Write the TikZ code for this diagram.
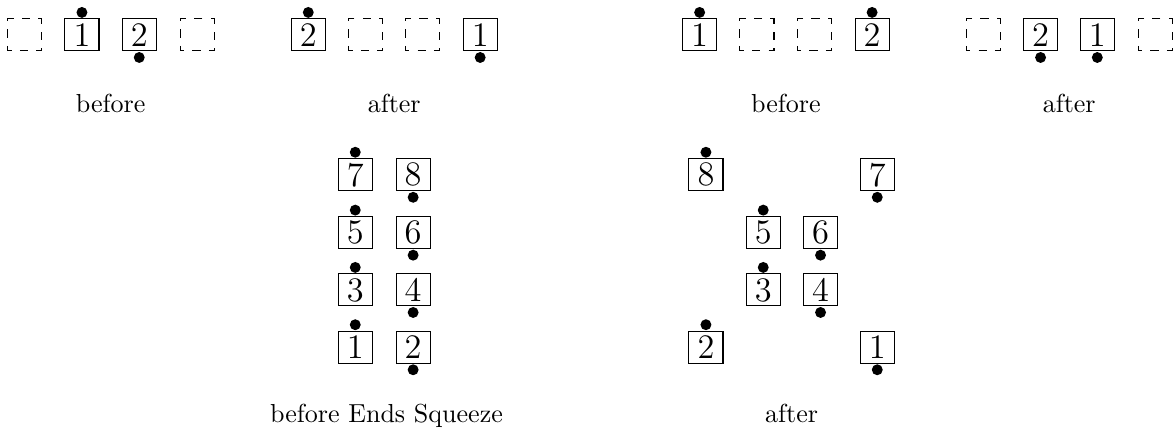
\documentclass[tikz,border=0pt]{standalone}
\usepackage{tikz}
\tikzset{
  cell/.style={draw, minimum width=13.1pt, minimum height=12.3pt, inner sep=0pt, font=\fontsize{13.2}{16}\selectfont},
  hole/.style={cell, dash pattern=on 3.15pt off 3.15pt, dash phase=1.575pt},
  knob/.style={circle, fill, inner sep=0pt, minimum size=4.2pt},
  topdot/.style={label={[knob]above:{}}},
  botdot/.style={label={[knob]below:{}}},
  caption/.style={anchor=base},
}
\begin{document}
\begin{tikzpicture}[x=0.7733cm, y=0.7733cm]
\useasboundingbox (0,0) rectangle (20.506,-7.504);
% Two pieces, before
\node[hole] (a0) at (0.43,-0.61) {};
\node[cell, topdot] (a1) at (1.43,-0.61) {1};
\node[cell, botdot] (a2) at (2.43,-0.61) {2};
\node[hole] (a3) at (3.44,-0.61) {};
\node[caption] (ca) at (1.93,-1.955) {before};
% Two pieces, after
\node[cell, topdot] (b2) at (5.38,-0.61) {2};
\node[hole] (b0) at (6.38,-0.61) {};
\node[hole] (b3) at (7.37,-0.61) {};
\node[cell, botdot] (b1) at (8.38,-0.61) {1};
\node[caption] (cb) at (6.88,-1.955) {after};
% Ends, before
\node[cell, topdot] (c1) at (12.21,-0.61) {1};
\node[hole] (c0) at (13.21,-0.61) {};
\node[hole] (c3) at (14.21,-0.61) {};
\node[cell, topdot] (c2) at (15.22,-0.61) {2};
\node[caption] (cc) at (13.715,-1.955) {before};
% Ends, after
\node[hole] (d0) at (17.16,-0.61) {};
\node[cell, botdot] (d2) at (18.16,-0.61) {2};
\node[cell, botdot] (d1) at (19.15,-0.61) {1};
\node[hole] (d3) at (20.16,-0.61) {};
\node[caption] (cd) at (18.66,-1.955) {after};
% Ends Squeeze, before
\foreach \n/\m/\y in {1/2/-6.06, 3/4/-5.06, 5/6/-4.06, 7/8/-3.05} {
  \node[cell, topdot] (e\n) at (6.20,\y) {\n};
  \node[cell, botdot] (e\m) at (7.21,\y) {\m};
}
\node[caption] (ce) at (6.745,-7.37) {before Ends Squeeze};
% Ends Squeeze, after
\node[cell, topdot] (f8) at (12.32,-3.05) {8};
\node[cell, botdot] (f7) at (15.31,-3.05) {7};
\node[cell, topdot] (f5) at (13.32,-4.06) {5};
\node[cell, botdot] (f6) at (14.32,-4.06) {6};
\node[cell, topdot] (f3) at (13.32,-5.06) {3};
\node[cell, botdot] (f4) at (14.32,-5.06) {4};
\node[cell, topdot] (f2) at (12.32,-6.06) {2};
\node[cell, botdot] (f1) at (15.31,-6.06) {1};
\node[caption] (cf) at (13.815,-7.37) {after};
\end{tikzpicture}
\end{document}
